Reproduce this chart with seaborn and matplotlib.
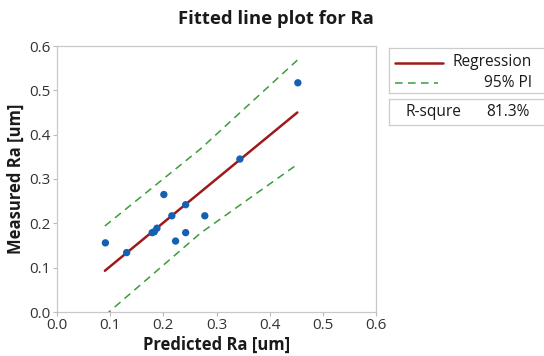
import matplotlib
matplotlib.use("Agg")
import matplotlib.pyplot as plt
import seaborn as sns
import pandas as pd

# Data
predicted = [0.091, 0.131, 0.179, 0.183, 0.188, 0.201, 0.216, 0.223, 0.242, 0.242, 0.278, 0.344, 0.453]
measured = [0.156, 0.134, 0.179, 0.181, 0.189, 0.265, 0.217, 0.160, 0.242, 0.179, 0.217, 0.345, 0.517]
reg_x = [0.090, 0.452]
reg_y = [0.093, 0.450]
pi_x = [0.090, 0.270, 0.452]
pi_upper = [0.194, 0.368, 0.568]
pi_lower = [-0.008, 0.178, 0.333]
x_ticks = [0.0, 0.1, 0.2, 0.3, 0.4, 0.5, 0.6]
y_ticks = [0.0, 0.1, 0.2, 0.3, 0.4, 0.5, 0.6]
r_squared = "81.3%"

sns.set_theme(style="white")
plt.rcParams['font.family'] = ['Open Sans', 'DejaVu Sans']

fig = plt.figure(figsize=(5.44, 3.56), dpi=100)
ax = fig.add_axes([57/544, 44/356, 319/544, 266/356])

red = "#9e1a1a"
green = "#3a9d3a"
blue = "#1560b0"
txt = "#1a1a1a"

pts = pd.DataFrame({"Predicted": predicted, "Measured": measured})
reg = pd.DataFrame({"x": reg_x, "y": reg_y})
pi = pd.DataFrame({"x": pi_x, "upper": pi_upper, "lower": pi_lower})

sns.lineplot(data=pi, x="x", y="upper", ax=ax, color=green, lw=1.1)
sns.lineplot(data=pi, x="x", y="lower", ax=ax, color=green, lw=1.1)
for l in ax.lines:
    l.set_dashes((5, 3.5))
sns.lineplot(data=reg, x="x", y="y", ax=ax, color=red, lw=1.8)
sns.scatterplot(data=pts, x="Predicted", y="Measured", ax=ax, color=blue, s=28, edgecolor="none", zorder=5)

ax.set_xlim(0, 0.6)
ax.set_ylim(0, 0.6)
ax.set_xticks(x_ticks)
ax.set_yticks(y_ticks)
ax.set_xticklabels([f"{t:.1f}" for t in x_ticks], fontsize=11, color="#333333")
ax.set_yticklabels([f"{t:.1f}" for t in y_ticks], fontsize=11, color="#333333")
ax.tick_params(axis="both", length=3, width=0.8, color="#bbbbbb", pad=1.5, bottom=True, left=True)
for s in ax.spines.values():
    s.set_color("#c8c8c8")
    s.set_linewidth(0.9)
ax.set_xlabel("Predicted Ra [um]", fontsize=12, fontweight="bold", color=txt, labelpad=2)
ax.set_ylabel("Measured Ra [um]", fontsize=12, fontweight="bold", color=txt, labelpad=3)

fig.text(276/544, 1 - 19/356, "Fitted line plot for Ra", ha="center", va="center",
         fontsize=13.3, fontweight="bold", color=txt)

# Legend box
lg = fig.add_axes([389/544, (356-93)/356, (560-389)/544, 45/356])
lg.set_xlim(389, 560)
lg.set_ylim(93, 48)
lg.set_xticks([]); lg.set_yticks([])
for s in lg.spines.values():
    s.set_color("#cccccc"); s.set_linewidth(0.9)
lg.plot([395, 443], [63, 63], color=red, lw=1.8)
lg.plot([395, 438], [83, 83], color=green, lw=1.1, dashes=(5, 3.5))
lg.text(532, 62, "Regression", ha="right", va="center", fontsize=11.2, color=txt)
lg.text(532, 83, "95% PI", ha="right", va="center", fontsize=11.2, color=txt)

rb = fig.add_axes([389/544, (356-125)/356, (560-389)/544, 26/356])
rb.set_xlim(389, 560)
rb.set_ylim(125, 99)
rb.set_xticks([]); rb.set_yticks([])
for s in rb.spines.values():
    s.set_color("#cccccc"); s.set_linewidth(0.9)
rb.text(405, 112, "R-squre", ha="left", va="center", fontsize=11.2, color=txt)
rb.text(530, 112, r_squared, ha="right", va="center", fontsize=11.2, color=txt)

fig.savefig("out.png", dpi=100)
